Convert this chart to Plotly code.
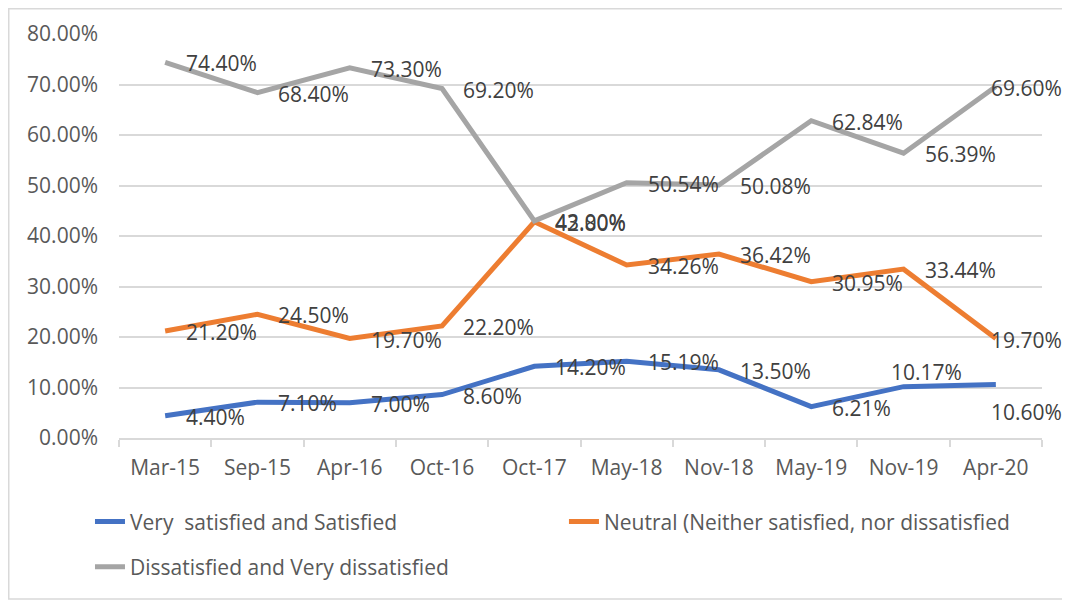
import plotly.graph_objects as go

months = ["Mar-15", "Sep-15", "Apr-16", "Oct-16", "Oct-17",
          "May-18", "Nov-18", "May-19", "Nov-19", "Apr-20"]
satisfied = [0.0440, 0.0710, 0.0700, 0.0860, 0.1420, 0.1519, 0.1350, 0.0621, 0.1017, 0.1060]
neutral = [0.2120, 0.2450, 0.1970, 0.2220, 0.4280, 0.3426, 0.3642, 0.3095, 0.3344, 0.1970]
dissatisfied = [0.7440, 0.6840, 0.7330, 0.6920, 0.4300, 0.5054, 0.5008, 0.6284, 0.5639, 0.6960]

FONT = "Open Sans"
W, H = 1062, 593  # page body has an 8px margin, so the figure is sized to fit the window
series = [
    ("Very  satisfied and Satisfied", satisfied, "#4472C4", "legend"),
    ("Neutral (Neither satisfied, nor dissatisfied", neutral, "#ED7D31", "legend2"),
    ("Dissatisfied and Very dissatisfied", dissatisfied, "#A5A5A5", "legend3"),
]

fig = go.Figure()
for name, vals, color, leg in series:
    fig.add_trace(go.Scatter(x=months, y=vals, name=name, mode="lines",
                             line=dict(color=color, width=5), legend=leg,
                             showlegend=True))
    # data labels to the right of each point, last ones pulled back inside
    for i, (m, v) in enumerate(zip(months, vals)):
        xs, ys = 19, -1
        if i == len(months) - 1:
            xs = -7
        if vals is satisfied and i == 8:
            xs, ys = -15, 15
        if vals is satisfied and i == 9:
            ys = -28
        fig.add_annotation(x=m, y=v, text=f"{v:.2%}", showarrow=False,
                           xanchor="left", yanchor="middle", xshift=xs, yshift=ys,
                           font=dict(family=FONT, size=21, color="#404040"))

leg_font = dict(family=FONT, size=21, color="#595959")
def legend_at(x, y):
    return dict(orientation="h", xref="container", yref="container", x=x, y=y,
                xanchor="left", yanchor="top", font=leg_font)

fig.update_layout(
    width=W, height=H,
    showlegend=True,
    margin=dict(l=111, r=28, t=26, b=163),
    plot_bgcolor="white", paper_bgcolor="white",
    font=dict(family=FONT, size=21, color="#595959"),
    legend=legend_at(0.0772, 0.168),
    legend2=legend_at(0.5235, 0.168),
    legend3=legend_at(0.0772, 0.0919),
    shapes=[dict(type="rect", xref="paper", yref="paper",
                 x0=(0.75 - 111) / 923, x1=(1060 - 111) / 923,
                 y0=(430 - 591) / 404, y1=(430 - 0.75) / 404,
                 line=dict(color="#D9D9D9", width=1.5))],
)
fig.update_xaxes(range=[-0.5, 9.5], showgrid=False, showline=True, linecolor="#D9D9D9",
                 linewidth=1.5, ticks="outside", tickson="boundaries", ticklen=7,
                 tickcolor="#D9D9D9", tickwidth=1.5, ticklabelstandoff=10, automargin=False)
fig.update_yaxes(range=[0, 0.8], dtick=0.1, tickformat=".2%", showgrid=True,
                 gridcolor="#D9D9D9", gridwidth=1.5, zeroline=False,
                 ticklabelstandoff=20, automargin=False)

fig.write_html("out.html")
